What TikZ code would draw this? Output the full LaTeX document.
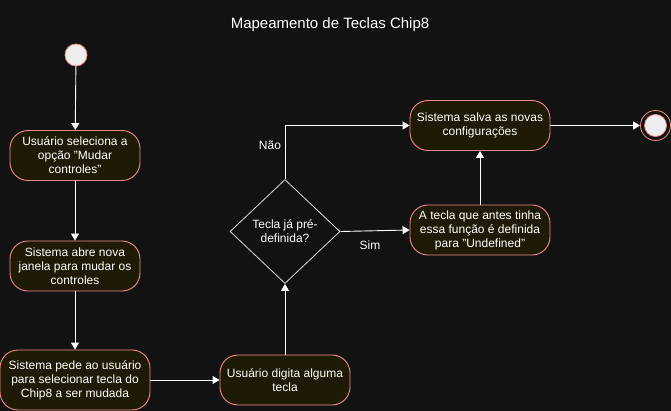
\documentclass[tikz,border=0pt]{standalone}
\usepackage{fontspec}
\setmainfont{Liberation Sans}
\usetikzlibrary{shapes.geometric,arrows.meta}
\definecolor{bgc}{HTML}{121212}
\definecolor{boxfill}{HTML}{1E1A06}
\definecolor{boxline}{HTML}{F08C88}
\definecolor{startfill}{HTML}{EEEEEE}
\definecolor{dline}{HTML}{DDDDDD}
\tikzset{
  act/.style={draw=boxline, fill=boxfill, rounded corners=18pt, line width=0.9pt,
    minimum width=#1, minimum height=50pt, text=white, align=center,
    font=\fontsize{12}{14}\selectfont, inner sep=2pt},
  decis/.style={draw=dline, fill=bgc, diamond, minimum width=110pt, minimum height=104pt,
    text=white, align=center, font=\fontsize{12}{14}\selectfont, inner sep=0pt, line width=0.8pt},
  flow/.style={draw=white, line width=0.9pt, -{Triangle[width=8pt,length=7pt,open,fill=white]}},
  lbl/.style={text=white, font=\fontsize{12}{14}\selectfont},
}
\begin{document}
\begin{tikzpicture}[x=1pt,y=-1pt]
\fill[bgc] (0,0) rectangle (671,411);
\useasboundingbox (0,0) rectangle (671,411);
\node[text=white, font=\fontsize{15}{18}\selectfont] (title) at (330,25) {Mapeamento de Teclas Chip8};
\node[circle, draw=boxline, fill=startfill, minimum size=22pt, inner sep=0pt, line width=0.8pt] (start) at (76,55) {};
\node[act=130pt] (b1) at (75,155.5) {Usuário seleciona a\\opção "Mudar\\controles"};
\node[act=130pt] (b2) at (75,266) {Sistema abre nova\\janela para mudar os\\controles};
\node[act=150pt, minimum height=60pt] (b3) at (75,380) {Sistema pede ao usuário\\para selecionar tecla do\\Chip8 a ser mudada};
\node[act=130pt] (b4) at (285,380) {Usuário digita alguma\\tecla};
\node[decis] (d) at (285,231.5) {Tecla já pré-\\definida?};
\node[act=140pt] (save) at (480,125.5) {Sistema salva as novas\\configurações};
\node[act=140pt] (undef) at (480,230) {A tecla que antes tinha\\essa função é definida\\para "Undefined"};
\node[circle, draw=boxline, fill=bgc, minimum size=30pt, inner sep=0pt, line width=0.8pt] (endo) at (655.5,125.5) {};
\node[circle, draw=boxline, fill=startfill, minimum size=22pt, inner sep=0pt, line width=0.8pt] (endi) at (655.5,125.5) {};
\coordinate (c1) at (285,125.5);
\draw[flow] (start) -- (b1);
\draw[flow] (b1) -- (b2);
\draw[flow] (b2) -- (b3);
\draw[flow] (b3) -- (b4);
\draw[flow] (b4) -- (d);
\draw[flow] (d.north) -- (c1) -- (save.west);
\draw[flow] (d.east) -- (undef.west);
\draw[flow] (undef) -- (save);
\draw[flow] (save) -- (endo);
\node[lbl] (nao) at (270,145.5) {Não};
\node[lbl] (sim) at (370,245.5) {Sim};
\end{tikzpicture}
\end{document}
